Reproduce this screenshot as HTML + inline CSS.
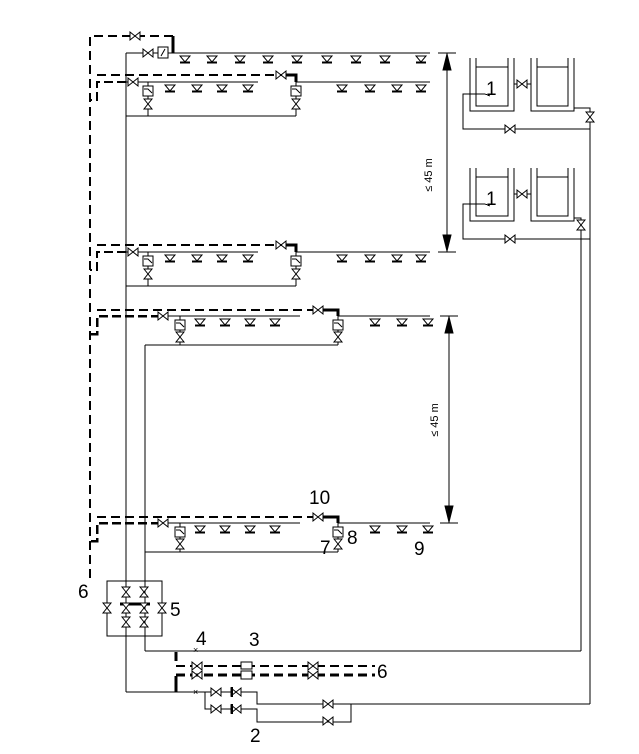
<!DOCTYPE html>
<html><head><meta charset="utf-8"><style>
html,body{margin:0;padding:0;background:#fff;}
svg{display:block;}
text{font-family:"Liberation Sans","DejaVu Sans",sans-serif;fill:#000;}
line,path,rect{shape-rendering:crispEdges;}
</style></head><body>
<svg width="639" height="754" viewBox="0 0 639 754" xmlns="http://www.w3.org/2000/svg">
<defs>
<g id="s" fill="none" stroke="#000" stroke-width="1"><path d="M-5,3 L5,3 L0,9 Z" style="shape-rendering:auto"/><line x1="-5" y1="9.5" x2="5" y2="9.5" stroke-width="2"/></g>
<path id="vh" d="M-5,-4 L5,4 L5,-4 L-5,4 Z" fill="#fff" stroke="#000" style="shape-rendering:auto"/>
<path id="vv" d="M-4,-5 L4,5 L-4,5 L4,-5 Z" fill="#fff" stroke="#000" style="shape-rendering:auto"/>
<g id="fb"><rect x="-5" y="0" width="10" height="10" fill="#fff" stroke="#000"/><path d="M-4,3 L0,3 L4,7" fill="none" stroke="#000" style="shape-rendering:auto"/></g>
</defs>
<g stroke="#000" fill="none" stroke-width="1">
<line x1="126" y1="53" x2="126" y2="692"/>
<line x1="145" y1="345" x2="145" y2="651"/>
<path d="M173,36 L90,36 L90,580" stroke-width="2" stroke-dasharray="9,5"/>
<line x1="173" y1="36" x2="173" y2="53" stroke-width="3"/>
<line x1="126" y1="53" x2="430" y2="53"/>
<line x1="438" y1="53" x2="456" y2="53"/>
</g>
<use href="#vh" x="135" y="36"/>
<use href="#vh" x="148" y="53"/>
<rect x="158" y="47" width="10" height="11" fill="#fff" stroke="#000"/>
<line x1="161" y1="56" x2="165" y2="49" stroke="#000" style="shape-rendering:auto"/>
<g>
<use href="#s" x="185" y="53"/><use href="#s" x="212" y="53"/><use href="#s" x="240" y="53"/><use href="#s" x="268" y="53"/><use href="#s" x="297" y="53"/><use href="#s" x="327" y="53"/><use href="#s" x="356" y="53"/><use href="#s" x="385" y="53"/><use href="#s" x="421" y="53"/>
</g>

<g id="L2">
<g stroke="#000" fill="none">
<line x1="126" y1="82" x2="258" y2="82"/>
<line x1="296" y1="82" x2="430" y2="82"/>
<line x1="148" y1="82" x2="148" y2="116"/>
<line x1="296" y1="82" x2="296" y2="116"/>
<line x1="126" y1="116" x2="296" y2="116"/>
<path d="M97,75 L283,75" stroke-width="2" stroke-dasharray="9,5"/>
<path d="M286,75 L296,75 L296,82" stroke-width="3"/>
<path d="M126,82 L97,82 L97,100 L90,100" stroke-width="2" stroke-dasharray="9,4"/>
</g>
<use href="#vh" x="133" y="82"/>
<use href="#vh" x="281" y="75"/>
<use href="#fb" x="148" y="86"/>
<use href="#fb" x="296" y="86"/>
<use href="#vv" x="148" y="104"/>
<use href="#vv" x="296" y="104"/>
<use href="#s" x="170" y="82"/><use href="#s" x="197" y="82"/><use href="#s" x="222" y="82"/><use href="#s" x="248" y="82"/>
<use href="#s" x="342" y="82"/><use href="#s" x="370" y="82"/><use href="#s" x="397" y="82"/><use href="#s" x="421" y="82"/>
</g>
<use href="#L2" y="170"/>
<line x1="438" y1="252" x2="456" y2="252" stroke="#000"/>

<g id="L4">
<g stroke="#000" fill="none">
<line x1="168" y1="316" x2="300" y2="316"/>
<line x1="338" y1="316" x2="430" y2="316"/>
<line x1="180" y1="316" x2="180" y2="345"/>
<line x1="338" y1="316" x2="338" y2="345"/>
<line x1="145" y1="345" x2="338" y2="345"/>
<path d="M97,310 L320,310" stroke-width="2" stroke-dasharray="9,5"/>
<path d="M323,310 L338,310 L338,316" stroke-width="3"/>
<path d="M160,316 L97,316 L97,334 L90,334" stroke-width="2.5" stroke-dasharray="9,4"/>
</g>
<use href="#vh" x="163" y="316"/>
<use href="#vh" x="318" y="310"/>
<use href="#fb" x="180" y="320"/>
<use href="#fb" x="338" y="320"/>
<use href="#vv" x="180" y="337"/>
<use href="#vv" x="338" y="337"/>
<use href="#s" x="200" y="316"/><use href="#s" x="225" y="316"/><use href="#s" x="250" y="316"/><use href="#s" x="275" y="316"/>
<use href="#s" x="375" y="316"/><use href="#s" x="402" y="316"/><use href="#s" x="428" y="316"/>
</g>
<use href="#L4" y="207"/>

<g stroke="#000" fill="#000">
<line x1="447" y1="53" x2="447" y2="252"/>
<path d="M447,54 L443,70 L451,70 Z" style="shape-rendering:auto"/><path d="M447,251 L443,235 L451,235 Z" style="shape-rendering:auto"/>
<line x1="440" y1="316" x2="458" y2="316"/>
<line x1="440" y1="523" x2="458" y2="523"/>
<line x1="449" y1="316" x2="449" y2="523"/>
<path d="M449,317 L445,333 L453,333 Z" style="shape-rendering:auto"/><path d="M449,522 L445,506 L453,506 Z" style="shape-rendering:auto"/>
</g>
<text x="432" y="175" font-size="11" transform="rotate(-90 432 175)" text-anchor="middle">≤ 45 m</text>
<text x="438" y="420" font-size="11" transform="rotate(-90 438 420)" text-anchor="middle">≤ 45 m</text>

<g id="T" stroke="#000" fill="none">
<path d="M470,58 L470,111 L514,111 L514,58"/>
<path d="M476,58 L476,106 L508,106 L508,58"/>
<line x1="476" y1="67" x2="508" y2="67"/>
<path d="M531,58 L531,111 L574,111 L574,58"/>
<path d="M537,58 L537,106 L568,106 L568,58"/>
<line x1="537" y1="67" x2="568" y2="67"/>
<line x1="514" y1="84" x2="531" y2="84"/>
<path d="M490,96 L485,94 L463,94 L463,129 L590,129"/>
</g>
<use href="#vh" x="522" y="84"/>
<use href="#vh" x="510" y="129"/>
<text x="486" y="95" font-size="19">1</text>
<use href="#T" y="110"/>
<use href="#vh" x="522" y="194"/>
<use href="#vh" x="510" y="239"/>
<text x="486" y="205" font-size="19">1</text>
<g stroke="#000" fill="none">
<path d="M574,108 L590,108 L590,704"/>
<path d="M574,218 L581,218 L581,651"/>
</g>
<use href="#vv" x="590" y="117"/>
<use href="#vv" x="581" y="225"/>

<g stroke="#000" fill="none">
<rect x="107" y="581" width="55" height="55"/>
<line x1="120" y1="604" x2="150" y2="604" stroke-width="3"/>
<line x1="145" y1="651" x2="581" y2="651"/>
<line x1="126" y1="692" x2="205" y2="692"/>
<line x1="176" y1="652" x2="176" y2="661" stroke-width="3"/>
<line x1="176" y1="676" x2="176" y2="692" stroke-width="3"/>
<path d="M176,666 L375,666" stroke-width="2" stroke-dasharray="9,5"/>
<path d="M176,675 L375,675" stroke-width="3" stroke-dasharray="9,5"/>
<path d="M205,692 L257,692 L257,704 L590,704"/>
<path d="M205,692 L205,709 L257,709 L257,722 L351,722 L351,704"/>
</g>
<use href="#vv" x="126" y="592"/><use href="#vv" x="144" y="592"/>
<use href="#vv" x="126" y="608"/><use href="#vv" x="144" y="608"/>
<use href="#vv" x="126" y="622"/><use href="#vv" x="144" y="622"/>
<use href="#vv" x="107" y="608"/><use href="#vv" x="162" y="608"/>
<use href="#vh" x="197" y="666"/><use href="#vh" x="197" y="675"/>
<rect x="241" y="662" width="11" height="7" fill="#fff" stroke="#000"/>
<rect x="241" y="671" width="11" height="8" fill="#fff" stroke="#000"/>
<use href="#vh" x="313" y="666"/><use href="#vh" x="313" y="675"/>
<use href="#vh" x="216" y="692"/><use href="#vh" x="216" y="709"/>
<use href="#vh" x="236" y="692"/><use href="#vh" x="236" y="709"/>
<line x1="232" y1="687" x2="232" y2="697" stroke="#000" stroke-width="2"/>
<line x1="232" y1="704" x2="232" y2="714" stroke="#000" stroke-width="2"/>
<use href="#vh" x="328" y="704"/><use href="#vh" x="328" y="721"/>
<text x="193" y="653" font-size="9">×</text>
<text x="193" y="695" font-size="9">×</text>

<g font-size="19">
<text x="309" y="504">10</text>
<text x="347" y="544">8</text>
<text x="320" y="554">7</text>
<text x="414" y="555">9</text>
<text x="78" y="598">6</text>
<text x="170" y="616">5</text>
<text x="196" y="645">4</text>
<text x="249" y="646">3</text>
<text x="377" y="678">6</text>
<text x="250" y="742">2</text>
</g>
</svg>
</body></html>
